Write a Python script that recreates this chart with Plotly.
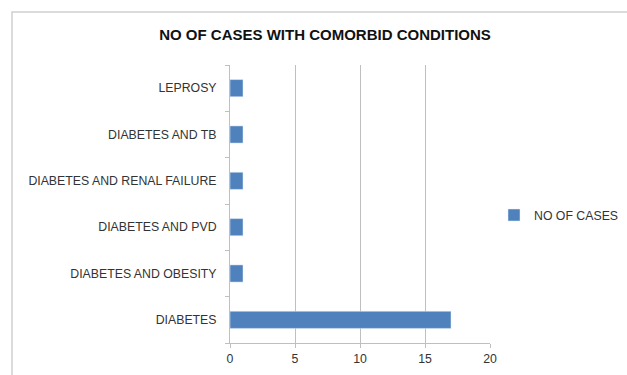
import plotly.graph_objects as go

categories = ["DIABETES", "DIABETES AND OBESITY", "DIABETES AND PVD",
              "DIABETES AND RENAL FAILURE", "DIABETES AND TB", "LEPROSY"]
cases = [17, 1, 1, 1, 1, 1]
series_name = "NO OF CASES"

fig = go.Figure()
fig.add_trace(go.Bar(
    y=categories, x=cases, orientation="h", name=series_name,
    marker=dict(color="#4F81BD"), showlegend=True,
))

L, R, T, B = 230, 490, 65, 343
W, H = 627, 375

fig.update_layout(
    width=W, height=H,
    margin=dict(l=L, r=W - R, t=T, b=H - B, pad=0, autoexpand=False),
    paper_bgcolor="white", plot_bgcolor="white",
    font=dict(family="Liberation Sans", size=12.3, color="#333333"),
    title=dict(text="<b>NO OF CASES WITH COMORBID CONDITIONS</b>",
               x=325 / W, xanchor="center", y=1 - 35 / H, yanchor="middle",
               font=dict(size=15, color="#111111")),
    bargap=0.63,
    showlegend=True,
    legend=dict(x=(494 - L) / (R - L), xanchor="left",
                y=(B - 215) / (B - T), yanchor="middle",
                font=dict(size=12.3, color="#333333"),
                itemwidth=30, bgcolor="rgba(0,0,0,0)"),
    xaxis=dict(range=[0, 20], tickvals=[0, 5, 10, 15, 20], showgrid=True,
               gridcolor="#BFBFBF", gridwidth=1, zeroline=False,
               showline=True, linecolor="#BFBFBF", ticks="outside",
               ticklen=4, tickcolor="#BFBFBF", fixedrange=True),
    yaxis=dict(categoryorder="array", categoryarray=categories,
               showline=True, linecolor="#BFBFBF", ticks="outside",
               tickson="boundaries", ticklen=4, tickcolor="#BFBFBF",
               showgrid=False, zeroline=False, ticklabelstandoff=10),
    shapes=[dict(type="rect", xref="paper", yref="paper",
                 x0=(12 - L) / (R - L), x1=2.0,
                 y0=-0.5, y1=(B - 12) / (B - T),
                 line=dict(color="#D0D0D0", width=1.5),
                 fillcolor="rgba(0,0,0,0)", layer="below")],
)

fig.write_html("out.html")
